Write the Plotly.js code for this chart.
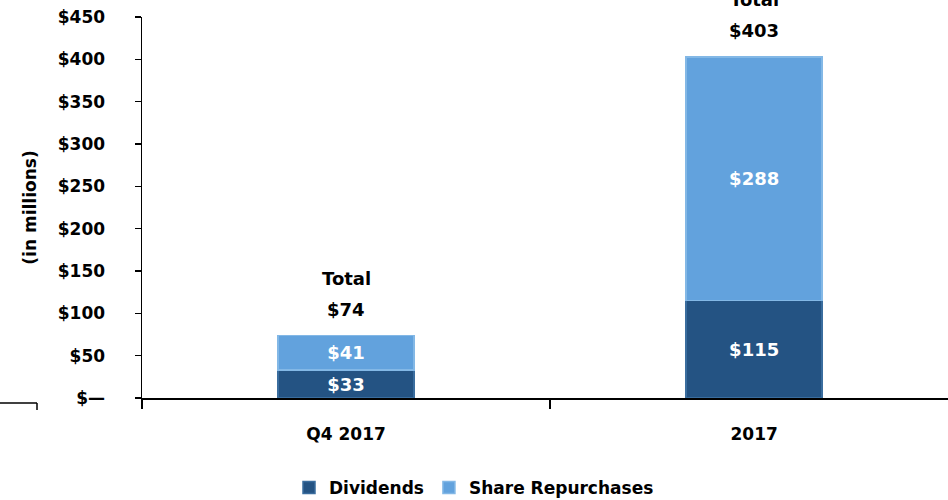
<!DOCTYPE html>
<html>
<head>
<meta charset="utf-8">
<script src="https://cdn.plot.ly/plotly-3.0.1.min.js"></script>
<style>html,body{margin:0;padding:0;background:#fff;}#chart{width:948px;height:500px;}</style>
</head>
<body>
<div id="chart"></div>
<script>
const categories = ["Q4 2017", "2017"];
const dividends = [33, 115];
const repurchases = [41, 288];
const totals = [74, 403];
const tickVals = [0, 50, 100, 150, 200, 250, 300, 350, 400, 450];
const tickText = ["$\u2014", "$50", "$100", "$150", "$200", "$250", "$300", "$350", "$400", "$450"];

const FONT = "'DejaVu Sans', sans-serif";

const traces = [
  {
    type: "bar", name: "Dividends", x: categories, y: dividends,
    text: dividends.map(v => "$" + v), textposition: "inside", insidetextanchor: "middle",
    textfont: {family: FONT, size: 18, color: "#ffffff", weight: "bold"},
    marker: {color: "#245383", line: {color: "#3a6d9e", width: 1.5}},
    constraintext: "none", hoverinfo: "skip"
  },
  {
    type: "bar", name: "Share Repurchases", x: categories, y: repurchases,
    text: repurchases.map(v => "$" + v), textposition: "inside", insidetextanchor: "middle",
    textfont: {family: FONT, size: 18, color: "#ffffff", weight: "bold"},
    marker: {color: "#62a2dd", line: {color: "#83b8e6", width: 1.5}},
    constraintext: "none", hoverinfo: "skip"
  }
];

const annotations = [];
categories.forEach((c, i) => {
  annotations.push({
    x: i, y: totals[i], xref: "x", yref: "y",
    text: "$" + totals[i], showarrow: false,
    yanchor: "middle", yshift: 26,
    font: {family: FONT, size: 18, color: "#000000", weight: "bold"}
  });
  annotations.push({
    x: i, y: totals[i], xref: "x", yref: "y",
    text: "Total", showarrow: false,
    yanchor: "middle", yshift: 57,
    font: {family: FONT, size: 18, color: "#000000", weight: "bold"}
  });
});

const layout = {
  width: 948, height: 500,
  margin: {l: 142, r: 0, t: 17, b: 102},
  paper_bgcolor: "#ffffff", plot_bgcolor: "#ffffff",
  barmode: "stack", bargap: 0.667,
  showlegend: true,
  legend: {orientation: "h", traceorder: "normal", x: 0.5, xref: "container", xanchor: "center", y: 0.024, yref: "container", yanchor: "middle",
    font: {family: FONT, size: 17, color: "#000", weight: "bold"}, itemwidth: 30, tracegroupgap: 0},
  xaxis: {
    type: "category", range: [-0.5, 1.475], showline: true, linecolor: "#000", linewidth: 1.5,
    ticks: "outside", tickson: "boundaries", ticklen: 9, tickcolor: "#000", tickwidth: 1.5,
    tickfont: {family: FONT, size: 17, color: "#000", weight: "bold"}, ticklabelstandoff: 20,
    showgrid: false, zeroline: false, fixedrange: true
  },
  yaxis: {
    range: [0, 450], tickvals: tickVals, ticktext: tickText, showline: true, linecolor: "#000", linewidth: 1.5,
    ticks: "outside", ticklen: 6, tickcolor: "#000", tickwidth: 1.5, showgrid: false, zeroline: false,
    tickfont: {family: FONT, size: 17, color: "#000", weight: "bold"}, ticklabelstandoff: 26,
    title: {text: "(in millions)", font: {family: FONT, size: 17, color: "#000", weight: "bold"}, standoff: 17},
    fixedrange: true
  },
  annotations: annotations,
  shapes: [
    {type: "line", xref: "paper", yref: "paper", x0: -142/806, x1: -105/806, y0: -5/381, y1: -5/381, line: {color: "#000", width: 1.5}},
    {type: "line", xref: "paper", yref: "paper", x0: -105/806, x1: -105/806, y0: -5/381, y1: -12/381, line: {color: "#000", width: 1.5}}
  ]
};

Plotly.newPlot("chart", traces, layout, {displayModeBar: false, staticPlot: true});
</script>
</body>
</html>
